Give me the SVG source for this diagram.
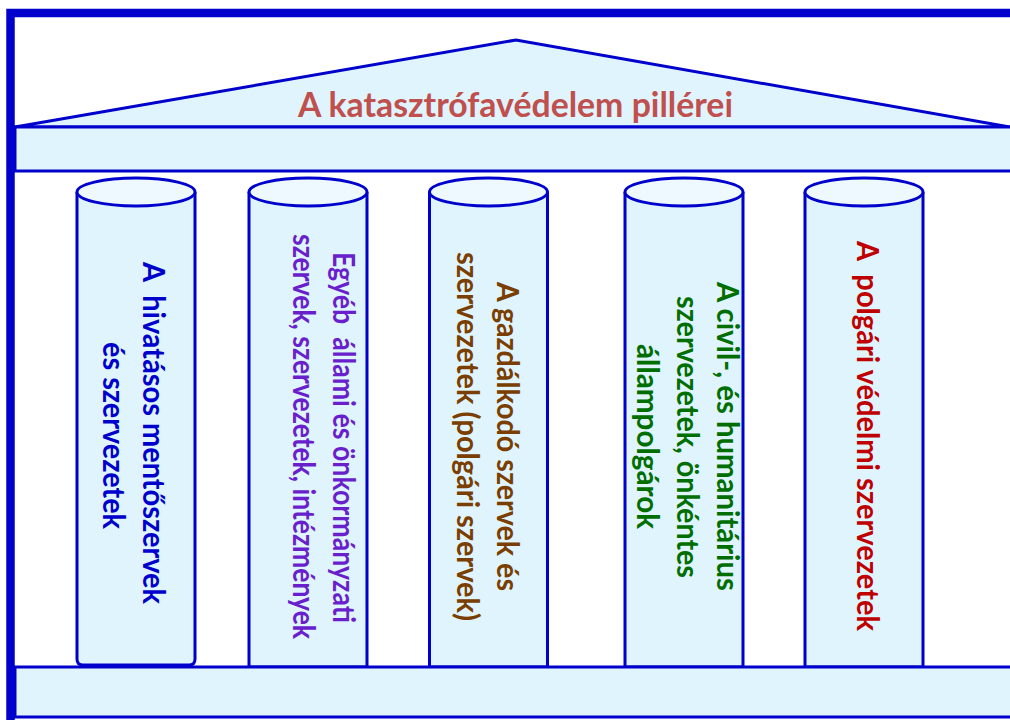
<svg xmlns="http://www.w3.org/2000/svg" width="1010" height="720" viewBox="0 0 1010 720">
<style>
.body{fill:#DFF4FD;stroke:#0000CC;stroke-width:3}
.cap{fill:#EEF9FF;stroke:#0000CC;stroke-width:3}
.t{font-family:Lato,"Liberation Sans",sans-serif;font-weight:bold;font-size:30px;text-anchor:middle}
.ttl{font-size:34px}
</style>
<rect x="0" y="0" width="1010" height="720" fill="#FFFFFF"/>
<rect id="frame" x="10.5" y="13" width="1020" height="720" fill="#FFFFFF" stroke="#0000CC" stroke-width="8.5"/>
<g id="roof">
<polygon points="15,127 516,40 1010,127" fill="#DFF4FD" stroke="#0000CC" stroke-width="3"/>
<text class="t ttl" x="515.5" y="117" fill="#C0504D" textLength="435" lengthAdjust="spacingAndGlyphs">A katasztrófavédelem pillérei</text>
</g>
<g id="architrave"><rect x="15" y="127" width="1000" height="44" fill="#DFF4FD" stroke="#0000CC" stroke-width="3"/></g>
<g id="pillar1">
<path class="body" d="M77,192 V659 Q77,665 83,665 H189 Q195,665 195,659 V192"/>
<ellipse class="cap" cx="136" cy="192" rx="59" ry="14"/>
<text class="t" fill="#0000CC" transform="translate(143,433) rotate(90)" textLength="342" lengthAdjust="spacingAndGlyphs">A&#160; hivatásos mentőszervek</text>
<text class="t" fill="#0000CC" transform="translate(103,435.5) rotate(90)" textLength="187" lengthAdjust="spacingAndGlyphs">és szervezetek</text>
</g>
<g id="pillar2">
<path class="body" d="M249,192 V667 H367 V192"/>
<ellipse class="cap" cx="308" cy="192" rx="59" ry="14"/>
<text class="t" fill="#6A1FCC" transform="translate(333,437.5) rotate(90)" textLength="371" lengthAdjust="spacingAndGlyphs">Egyéb&#160; állami és önkormányzati</text>
<text class="t" fill="#6A1FCC" transform="translate(293,436.5) rotate(90)" textLength="405" lengthAdjust="spacingAndGlyphs">szervek, szervezetek, intézmények</text>
</g>
<g id="pillar3">
<path class="body" d="M429.5,192 V667 H547.5 V192"/>
<ellipse class="cap" cx="488.5" cy="192" rx="59" ry="14"/>
<text class="t" fill="#7A3E00" transform="translate(497,436.5) rotate(90)" textLength="309" lengthAdjust="spacingAndGlyphs">A gazdálkodó szervek és</text>
<text class="t" fill="#7A3E00" transform="translate(457,436.5) rotate(90)" textLength="369" lengthAdjust="spacingAndGlyphs">szervezetek (polgári szervek)</text>
</g>
<g id="pillar4">
<path class="body" d="M625,192 V667 H743 V192"/>
<ellipse class="cap" cx="684" cy="192" rx="59" ry="14"/>
<text class="t" fill="#006E00" transform="translate(717,436.5) rotate(90)" textLength="309" lengthAdjust="spacingAndGlyphs">A civil-, és humanitárius</text>
<text class="t" fill="#006E00" transform="translate(677,437) rotate(90)" textLength="282" lengthAdjust="spacingAndGlyphs">szervezetek, önkéntes</text>
<text class="t" fill="#006E00" transform="translate(637,436.5) rotate(90)" textLength="185" lengthAdjust="spacingAndGlyphs">állampolgárok</text>
</g>
<g id="pillar5">
<path class="body" d="M805,192 V667 H923 V192"/>
<ellipse class="cap" cx="864" cy="192" rx="59" ry="14"/>
<text class="t" fill="#C00000" transform="translate(857,436) rotate(90)" textLength="390" lengthAdjust="spacingAndGlyphs">A&#160; polgári védelmi szervezetek</text>
</g>
<g id="base"><rect x="15" y="667" width="1000" height="50" fill="#DFF4FD" stroke="#0000CC" stroke-width="3"/></g>
<g id="connectors"></g>
</svg>
